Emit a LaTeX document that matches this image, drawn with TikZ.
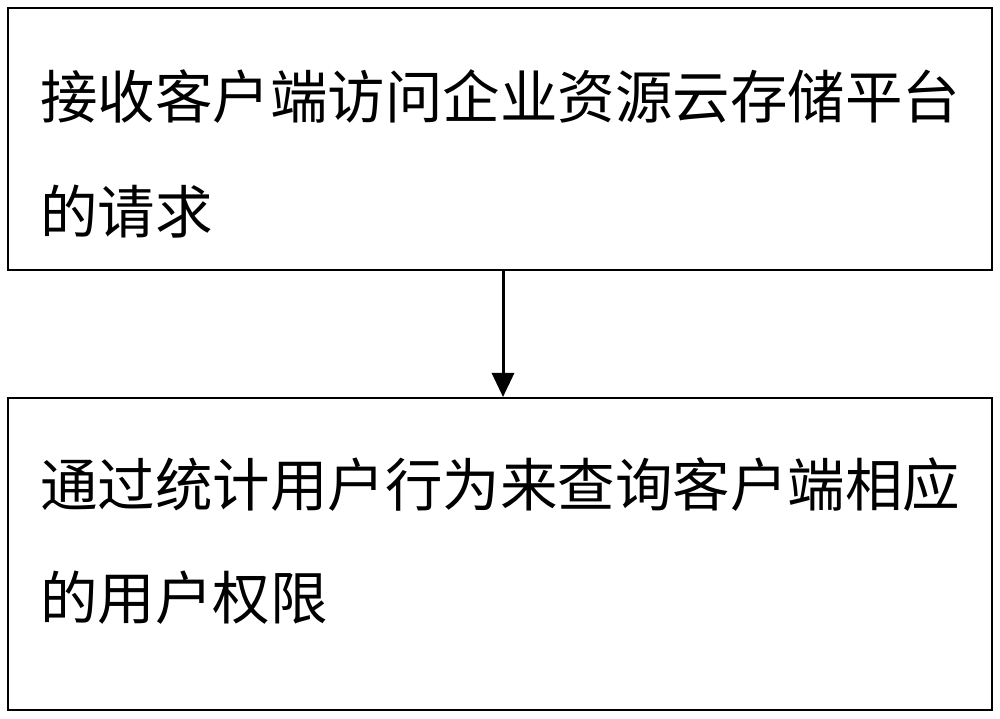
\documentclass[tikz,border=0pt]{standalone}
\usepackage{fontspec}
\newfontfamily\cjk{Noto Sans CJK SC}
\usetikzlibrary{arrows.meta}
\begin{document}
\begin{tikzpicture}[x=1pt,y=1pt,
  boxst/.style={draw,line width=2.5pt},
  txt/.style={anchor=base west,inner sep=0pt,font=\cjk\fontsize{57.5}{60}\selectfont}]
\useasboundingbox (0,0) rectangle (1000,718);
\draw[boxst] (8,448) rectangle (992,710);
\draw[boxst] (8,8) rectangle (992,320);
\coordinate (a) at (503,448);
\coordinate (b) at (503,321);
\draw[line width=3pt,-{Triangle[length=24pt,width=22pt]}] (a) -- (b);
\node[txt] (t1) at (40,599) {接收客户端访问企业资源云存储平台};
\node[txt] (t2) at (40,484) {的请求};
\node[txt] (t3) at (40,212) {通过统计用户行为来查询客户端相应};
\node[txt] (t4) at (40,99) {的用户权限};
\end{tikzpicture}
\end{document}
